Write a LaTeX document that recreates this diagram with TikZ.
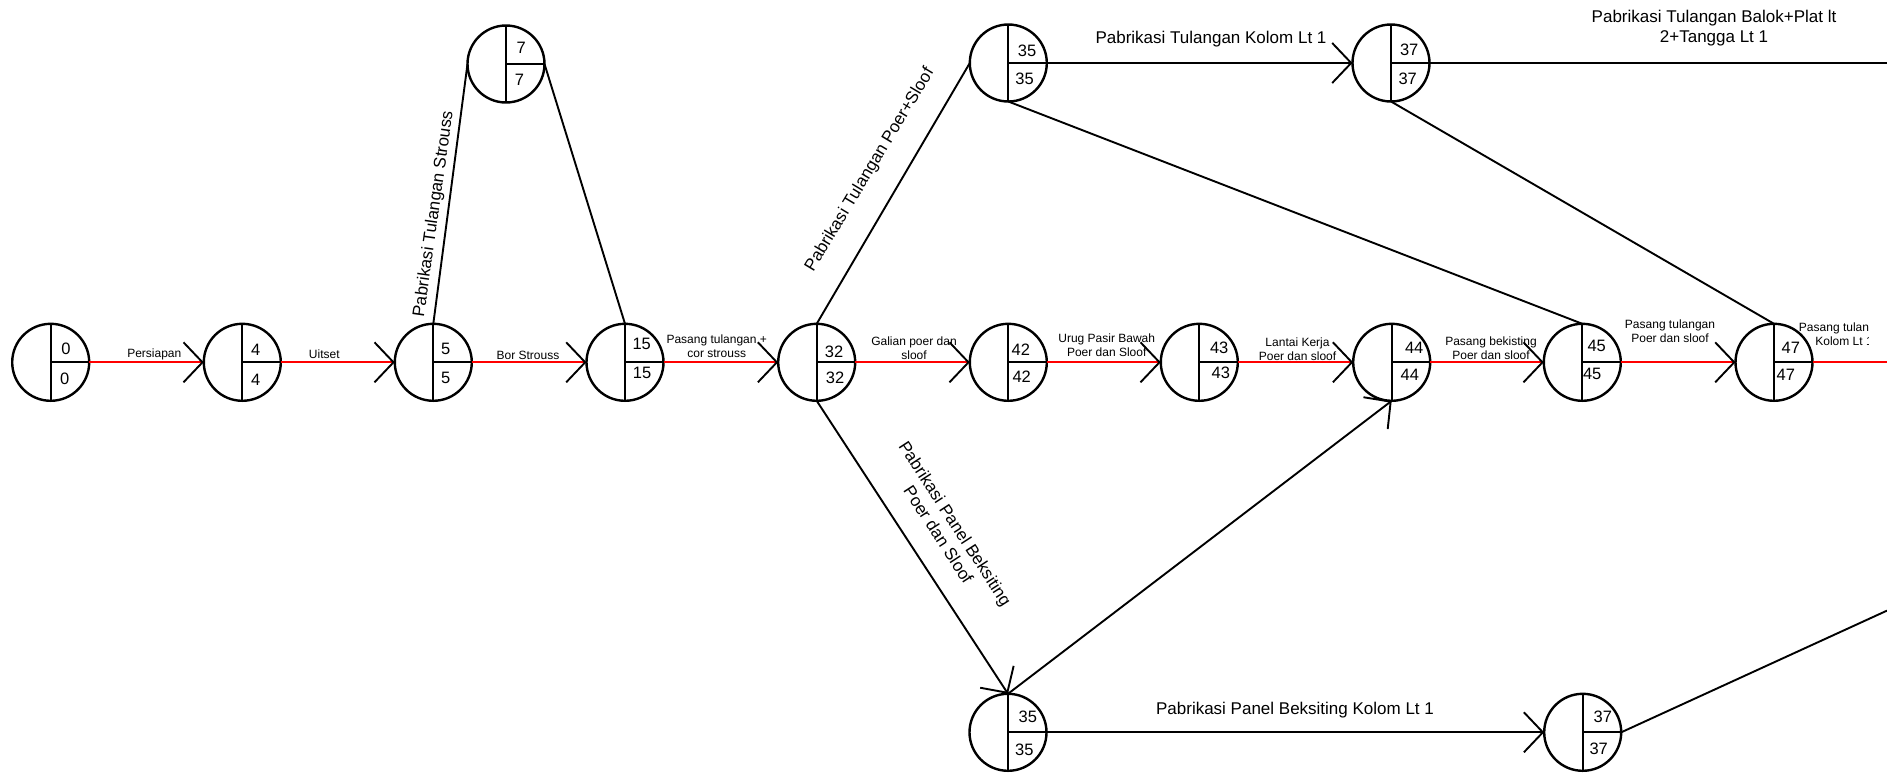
\documentclass[tikz,border=0pt]{standalone}
\usepackage{fontspec}
\setmainfont{Liberation Sans}
\usetikzlibrary{arrows.meta,calc}
\begin{document}
\begin{tikzpicture}[x=1pt,y=-1pt,
  event/.style={circle,draw,line width=2.4pt,minimum size=77pt,inner sep=0pt,outer sep=0pt,
    path picture={
      \draw[line width=2.2pt] (path picture bounding box.north) -- (path picture bounding box.south);
      \draw[line width=2.2pt] (path picture bounding box.center) -- (path picture bounding box.east);}},
  num/.style={inner sep=0pt,font=\fontsize{16.5}{18}\selectfont},
  small/.style={inner sep=0pt,align=center,font=\fontsize{12}{14}\selectfont},
  big/.style={inner sep=0pt,align=center,font=\fontsize{17}{20}\selectfont},
  act/.style={line width=1.9pt,black},
  crit/.style={line width=2.3pt,red},
  barb/.style={-{Straight Barb[length=19pt,width=40pt,line width=1.9pt,color=black]}},
]
\useasboundingbox (0,0) rectangle (1887,774);

% event nodes: main row
\node[event] (n0)  at (50.7,362.3) {};
\node[event] (n4)  at (242.3,362.3) {};
\node[event] (n5)  at (433.3,362.3) {};
\node[event] (n15) at (625,362.3) {};
\node[event] (n32) at (816.7,362.3) {};
\node[event] (n42) at (1008.3,362.3) {};
\node[event] (n43) at (1199.3,362.3) {};
\node[event] (n44) at (1391.7,362.3) {};
\node[event] (n45) at (1582.3,362.3) {};
\node[event] (n47) at (1774,362.3) {};
% event nodes: upper and lower branches
\node[event] (n7)  at (506,64) {};
\node[event] (t35) at (1008.3,63) {};
\node[event] (t37) at (1391,63) {};
\node[event] (b35) at (1008,732.3) {};
\node[event] (b37) at (1582.7,732.3) {};

% earliest / latest times
\node[num] (n0a)  at ($(n0)+(15.3,-13.6)$) {0};
\node[num] (n0b)  at ($(n0)+(14,16.7)$) {0};
\node[num] (n4a)  at ($(n4)+(13.5,-12.6)$) {4};
\node[num] (n4b)  at ($(n4)+(13.5,17.2)$) {4};
\node[num] (n5a)  at ($(n5)+(12.5,-13.1)$) {5};
\node[num] (n5b)  at ($(n5)+(12.5,15.5)$) {5};
\node[num] (n7a)  at ($(n7)+(15.2,-15.7)$) {7};
\node[num] (n7b)  at ($(n7)+(13.5,16)$) {7};
\node[num] (n15a) at ($(n15)+(16.7,-18.3)$) {15};
\node[num] (n15b) at ($(n15)+(17,11)$) {15};
\node[num] (n32a) at ($(n32)+(17.3,-10.6)$) {32};
\node[num] (n32b) at ($(n32)+(18.3,15.2)$) {32};
\node[num] (n42a) at ($(n42)+(12.5,-12.6)$) {42};
\node[num] (n42b) at ($(n42)+(13.4,14.2)$) {42};
\node[num] (n43a) at ($(n43)+(19.9,-14)$) {43};
\node[num] (n43b) at ($(n43)+(21.5,11)$) {43};
\node[num] (n44a) at ($(n44)+(22.5,-14.6)$) {44};
\node[num] (n44b) at ($(n44)+(18.1,12.7)$) {44};
\node[num] (n45a) at ($(n45)+(14.4,-16)$) {45};
\node[num] (n45b) at ($(n45)+(9.9,11.4)$) {45};
\node[num] (n47a) at ($(n47)+(16.8,-14.5)$) {47};
\node[num] (n47b) at ($(n47)+(11.8,12.7)$) {47};
\node[num] (t35a) at ($(t35)+(18.7,-12.2)$) {35};
\node[num] (t35b) at ($(t35)+(16.2,16.2)$) {35};
\node[num] (t37a) at ($(t37)+(18.2,-12.7)$) {37};
\node[num] (t37b) at ($(t37)+(16.7,15.7)$) {37};
\node[num] (b35a) at ($(b35)+(19.9,-15.6)$) {35};
\node[num] (b35b) at ($(b35)+(16.3,17.7)$) {35};
\node[num] (b37a) at ($(b37)+(20.1,-15.6)$) {37};
\node[num] (b37b) at ($(b37)+(16,16.5)$) {37};

% free ends at the right border
\coordinate (e47) at (1887,362.3);
\coordinate (e37) at (1887,63);
\coordinate (eb37) at (1887,610.6);

% critical path
\draw[crit,barb] (n0.east) -- (n4.west);
\draw[crit,barb] (n4.east) -- (n5.west);
\draw[crit,barb] (n5.east) -- (n15.west);
\draw[crit,barb] (n15.east) -- (n32.west);
\draw[crit,barb] (n32.east) -- (n42.west);
\draw[crit,barb] (n42.east) -- (n43.west);
\draw[crit,barb] (n43.east) -- (n44.west);
\draw[crit,barb] (n44.east) -- (n45.west);
\draw[crit,barb] (n45.east) -- (n47.west);
\draw[crit] (n47.east) -- (e47);

% other activities
\draw[act] (n5.north) -- (n7.west);
\draw[act] (n7.east) -- (n15.north);
\draw[act] (n32.north) -- (t35.west);
\draw[act,barb] (t35.east) -- (t37.west);
\draw[act] (t37.east) -- (e37);
\draw[act] (t35.south) -- (n45.north);
\draw[act] (t37.south) -- (n47.north);
\draw[act,barb] (n32.south) -- (b35.north);
\draw[act,barb] (b35.north) -- (n44.south);
\draw[act,barb] (b35.east) -- (b37.west);
\draw[act] (b37.east) -- (eb37);

% activity labels
\node[small] (lPersiapan) at (154.3,354) {Persiapan};
\node[small] (lUitset) at (324.3,354) {Uitset};
\node[small] (lBor) at (528,355) {Bor Strouss};
\node[small] (lCor) at (716.7,346.7) {Pasang tulangan +\\cor strouss};
\node[small] (lGalian) at (914,348) {Galian poer dan\\sloof};
\node[small] (lUrug) at (1106.7,345.2) {Urug Pasir Bawah\\Poer dan Sloof};
\node[small] (lLantai) at (1297.5,349.2) {Lantai Kerja\\Poer dan sloof};
\node[small] (lBekisting) at (1491,348) {Pasang bekisting\\Poer dan sloof};
\node[small] (lTulPoer) at (1670,331.7) {Pasang tulangan\\Poer dan sloof};
\begin{scope}
  \clip (1780,300) rectangle (1868,360);
  \node[small] (lTulKolom) at (1844,334.2) {Pasang tulangan\\Kolom Lt 1};
\end{scope}

\node[big,rotate=82] (lStrouss) at (434,214) {Pabrikasi Tulangan Strouss};
\node[big,rotate=59] (lPoerSloof) at (870,170) {Pabrikasi Tulangan Poer+Sloof};
\node[big,rotate=-57] (lPanelPoer) at (947,529) {Pabrikasi Panel Beksiting\\Poer dan Sloof};
\node[big] (lKolom) at (1211,39) {Pabrikasi Tulangan Kolom Lt 1};
\node[big] (lBalok) at (1714,28) {Pabrikasi Tulangan Balok+Plat lt\\2+Tangga Lt 1};
\node[big] (lPanelKolom) at (1295,710) {Pabrikasi Panel Beksiting Kolom Lt 1};
\end{tikzpicture}
\end{document}
